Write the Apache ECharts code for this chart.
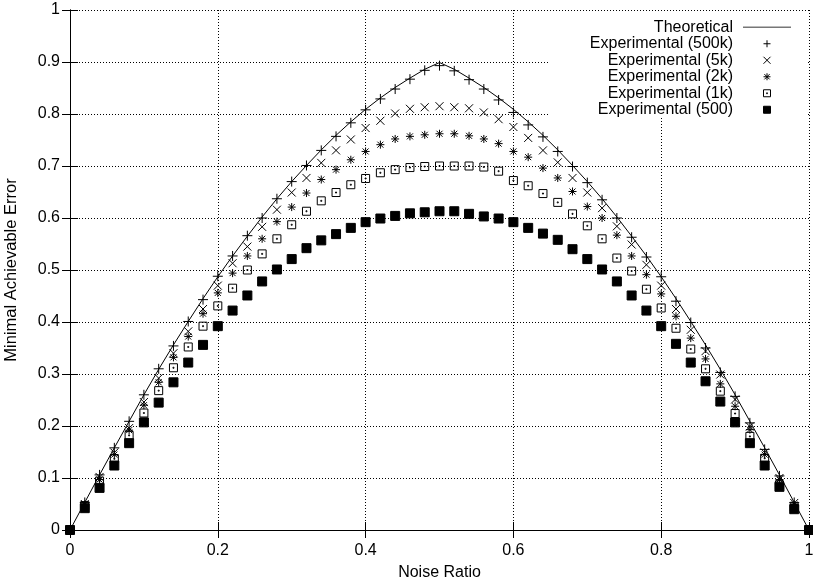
<!DOCTYPE html>
<html>
<head>
<meta charset="utf-8">
<title>Minimal Achievable Error</title>
<script src="https://cdn.jsdelivr.net/npm/echarts@6.0.0/dist/echarts.min.js"></script>
<style>
html, body { margin: 0; padding: 0; background: #fff; }
#chart { width: 813px; height: 581px; }
</style>
</head>
<body>
<div id="chart"></div>
<script>
// x positions of the measurements
var noiseRatio = [0, 0.02, 0.04, 0.06, 0.08, 0.1, 0.12, 0.14, 0.16, 0.18,
    0.2, 0.22, 0.24, 0.26, 0.28, 0.3, 0.32, 0.34, 0.36, 0.38,
    0.4, 0.42, 0.44, 0.46, 0.48, 0.5, 0.52, 0.54, 0.56, 0.58,
    0.6, 0.62, 0.64, 0.66, 0.68, 0.7, 0.72, 0.74, 0.76, 0.78,
    0.8, 0.82, 0.84, 0.86, 0.88, 0.9, 0.92, 0.94, 0.96, 0.98, 1];

var theoretical = [0, 0.053, 0.106, 0.158, 0.209, 0.260, 0.309, 0.356, 0.401, 0.445,
    0.487, 0.527, 0.565, 0.602, 0.637, 0.670, 0.701, 0.731, 0.759, 0.785,
    0.809, 0.831, 0.851, 0.869, 0.886, 0.899, 0.886, 0.869, 0.851, 0.831,
    0.809, 0.785, 0.759, 0.731, 0.701, 0.670, 0.637, 0.602, 0.565, 0.527,
    0.487, 0.445, 0.401, 0.356, 0.309, 0.260, 0.209, 0.158, 0.106, 0.053, 0];

var exp500k = [0, 0.053, 0.106, 0.158, 0.209, 0.260, 0.310, 0.354, 0.401, 0.443,
    0.488, 0.527, 0.566, 0.600, 0.637, 0.670, 0.701, 0.730, 0.757, 0.783,
    0.808, 0.829, 0.848, 0.867, 0.884, 0.893, 0.883, 0.866, 0.848, 0.827,
    0.803, 0.779, 0.756, 0.728, 0.699, 0.668, 0.635, 0.600, 0.563, 0.525,
    0.487, 0.440, 0.399, 0.350, 0.303, 0.257, 0.206, 0.155, 0.104, 0.053, 0];

var exp5k = [0, 0.050, 0.102, 0.149, 0.196, 0.246, 0.292, 0.340, 0.382, 0.425,
    0.470, 0.513, 0.545, 0.583, 0.616, 0.649, 0.677, 0.706, 0.730, 0.751,
    0.773, 0.787, 0.801, 0.810, 0.813, 0.815, 0.813, 0.811, 0.803, 0.790,
    0.775, 0.754, 0.730, 0.707, 0.677, 0.649, 0.619, 0.584, 0.549, 0.510,
    0.470, 0.425, 0.385, 0.344, 0.299, 0.251, 0.199, 0.149, 0.100, 0.052, 0];

var exp2k = [0, 0.049, 0.097, 0.145, 0.192, 0.240, 0.284, 0.332, 0.372, 0.416,
    0.456, 0.494, 0.527, 0.560, 0.593, 0.621, 0.648, 0.674, 0.693, 0.712,
    0.728, 0.741, 0.752, 0.757, 0.760, 0.762, 0.762, 0.758, 0.752, 0.743,
    0.728, 0.717, 0.696, 0.677, 0.651, 0.622, 0.600, 0.567, 0.527, 0.491,
    0.454, 0.411, 0.369, 0.329, 0.281, 0.238, 0.193, 0.145, 0.097, 0.049, 0];

var exp1k = [0, 0.047, 0.094, 0.137, 0.182, 0.225, 0.268, 0.312, 0.352, 0.392,
    0.431, 0.465, 0.500, 0.531, 0.560, 0.587, 0.613, 0.633, 0.649, 0.664,
    0.676, 0.687, 0.693, 0.697, 0.699, 0.700, 0.700, 0.700, 0.698, 0.690,
    0.672, 0.662, 0.647, 0.630, 0.608, 0.585, 0.560, 0.523, 0.498, 0.463,
    0.427, 0.388, 0.348, 0.310, 0.267, 0.224, 0.180, 0.138, 0.087, 0.044, 0];

var exp500 = [0, 0.042, 0.081, 0.124, 0.167, 0.207, 0.245, 0.284, 0.322, 0.356,
    0.392, 0.422, 0.451, 0.478, 0.501, 0.521, 0.542, 0.557, 0.569, 0.581,
    0.592, 0.599, 0.604, 0.609, 0.611, 0.613, 0.613, 0.608, 0.603, 0.599,
    0.592, 0.581, 0.570, 0.558, 0.540, 0.521, 0.501, 0.478, 0.451, 0.422,
    0.392, 0.358, 0.322, 0.286, 0.247, 0.207, 0.167, 0.124, 0.083, 0.040, 0];

var seriesNames = ['Theoretical', 'Experimental (500k)', 'Experimental (5k)',
    'Experimental (2k)', 'Experimental (1k)', 'Experimental (500)'];

var FONT = '"Liberation Sans", Arial, Helvetica, sans-serif';

// gnuplot like point types
var SYM_PLUS = 'path://M0,5L10,5M5,0L5,10';
var SYM_CROSS = 'path://M0,0L8,8M0,8L8,0';
var SYM_STAR = 'path://M0,4L8,4M4,0L4,8M1,1L7,7M1,7L7,1';
var SYM_BOXDOT = 'path://M0,0L8,0L8,8L0,8ZM3.5,3.5L4.5,3.5L4.5,4.5L3.5,4.5Z';
var SYM_BOX = 'path://M0,0L9,0L9,9L0,9Z';
var KEY_LINE = 'path://M0,0L48,0L48,1.5L0,1.5Z';

function pairs(ys) {
    return noiseRatio.map(function (x, i) { return [x, ys[i]]; });
}

function pointSeries(name, ys, symbol, size, fill) {
    return {
        name: name,
        type: 'scatter',
        data: pairs(ys),
        symbol: symbol,
        symbolSize: size,
        itemStyle: { color: fill, borderColor: '#000', borderWidth: 1, opacity: 1 },
        silent: true
    };
}

var labelStyle = { color: '#000', fontSize: 16, fontFamily: FONT };
var gridLine = { show: true, lineStyle: { color: '#000', type: [1, 2], width: 1 } };
var blackLine = { show: true, lineStyle: { color: '#000', width: 1 } };
var tickIn = { show: true, inside: true, length: 8, lineStyle: { color: '#000', width: 1 } };

var chart = echarts.init(document.getElementById('chart'), null, { renderer: 'canvas' });

chart.setOption({
    animation: false,
    backgroundColor: '#fff',
    grid: { left: 70, right: 4, top: 10, bottom: 51, containLabel: false, outerBoundsMode: 'none' },
    xAxis: [{
        type: 'value', min: 0, max: 1, interval: 0.2, position: 'bottom', z: 0,
        axisLine: blackLine, axisTick: tickIn, splitLine: gridLine,
        axisLabel: Object.assign({ margin: 13 }, labelStyle),
        name: 'Noise Ratio', nameLocation: 'middle', nameGap: 35,
        nameTextStyle: labelStyle
    }, {
        type: 'value', min: 0, max: 1, interval: 0.2, position: 'top', z: 3,
        axisLine: blackLine, axisTick: tickIn, splitLine: { show: false },
        axisLabel: { show: false }
    }],
    yAxis: [{
        type: 'value', min: 0, max: 1, interval: 0.1, position: 'left', z: 0,
        axisLine: blackLine, axisTick: tickIn, splitLine: gridLine,
        axisLabel: Object.assign({ margin: 10 }, labelStyle),
        name: 'Minimal Achievable Error', nameLocation: 'middle', nameGap: 50,
        nameRotate: 90, nameTextStyle: { color: '#000', fontSize: 16.5, fontFamily: FONT }
    }, {
        type: 'value', min: 0, max: 1, interval: 0.1, position: 'right', z: 3,
        axisLine: blackLine, axisTick: tickIn, splitLine: { show: false },
        axisLabel: { show: false }
    }],
    legend: {
        orient: 'vertical', right: 5, top: 11, align: 'right',
        itemWidth: 48, itemHeight: 7, itemGap: 0,
        padding: [8, 17, 0, 41], backgroundColor: '#fff', z: 2,
        selectedMode: false,
        textStyle: { color: '#000', fontSize: 16, fontFamily: FONT, lineHeight: 16.5, padding: [0, 5, 0, 0] },
        itemStyle: { borderWidth: 1 },
        data: [
            { name: seriesNames[0], icon: KEY_LINE, itemStyle: { color: '#777', borderWidth: 0 } },
            seriesNames[1], seriesNames[2], seriesNames[3], seriesNames[4], seriesNames[5]
        ]
    },
    series: [
        {
            name: seriesNames[0], type: 'line', data: pairs(theoretical),
            symbol: 'none', smooth: false, silent: true,
            lineStyle: { color: '#000', width: 1 }, itemStyle: { color: '#000' }
        },
        pointSeries(seriesNames[1], exp500k, SYM_PLUS, 10, '#000'),
        pointSeries(seriesNames[2], exp5k, SYM_CROSS, 8, '#000'),
        pointSeries(seriesNames[3], exp2k, SYM_STAR, 8, '#000'),
        pointSeries(seriesNames[4], exp1k, SYM_BOXDOT, 8, 'rgba(0,0,0,0)'),
        pointSeries(seriesNames[5], exp500, SYM_BOX, 9, '#000')
    ]
});
</script>
</body>
</html>
